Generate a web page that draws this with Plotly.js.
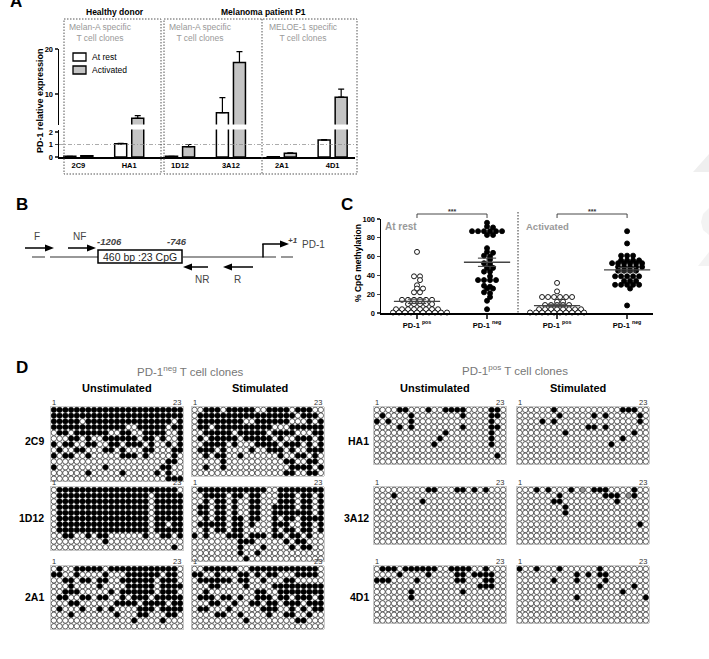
<!DOCTYPE html>
<html><head><meta charset="utf-8">
<script src="https://cdn.plot.ly/plotly-3.0.1.min.js"></script>
<style>html,body{margin:0;padding:0;background:#fff}#chart{width:709px;height:659px}</style>
</head><body><div id="chart"></div>
<script>
// ---------- DATA ----------
// Panel A
const clones = ['2C9','HA1','1D12','3A12','2A1','4D1'];
const restExpr = [0.05, 1.05, 0.05, 5.85, 0.02, 1.35];
const restErr  = [0, 0.05, 0, 3.35, 0, 0.05];
const actExpr  = [0.1, 4.6, 0.82, 17.0, 0.3, 9.3];
const actErr   = [0, 0.6, 0.18, 2.4, 0.03, 1.8];
// Panel C (% CpG methylation)
const cGroups = ['PD-1 <sup>pos</sup>','PD-1 <sup>neg</sup>','PD-1 <sup>pos</sup>','PD-1 <sup>neg</sup>'];
const restPos = [65,39,39,35,29.5,26,26,22,22,14,14,14,14,14,14,9.5,9.5,9.5,9.5,9.5,4,4,4,4,4,4,4,4,0.5,0.5,0.5,0.5,0.5,0.5,0.5,0.5,0.5,0.5];
const restNeg = [96,92,91,87,87,87,87,87,87,83,83,69,65,64,61,60,57,53,52,48,48,44,44,39,35,35,35,35,29,28,26,26,22,21,17,13,4];
const actPos  = [32,23,17,17,17,17,17,17,12,12,8.5,8.5,8.5,8.5,8.5,4,4,4,4,4,4,4,4,0.5,0.5,0.5,0.5,0.5,0.5,0.5,0.5,0.5,0.5];
const actNeg  = [87,74,61,61,61,56,56,56,56,53,53,53,53,53,53,49,49,49,49,49,45,45,45,45,39,39,39,39,39,34,34,34,30,30,30,30,30,26,8];
// Panel D methylation maps (1 = methylated, 0 = unmethylated, 2 = grey)
const gNeg2C9U = [
"11111111111111111111111","11111111111111111111111","11111011111111111111101",
"11111111111110011111011","01101111110011001111001","00011010011111101101001",
"10110011001101110100101","01001100011010001100011","10110010000011101000010",
"00000000000000000000110","10000000010000000001100","00000010000010000010100",
"00000000000000000000111"];
const gNeg2C9S = [
"00111011111001111011100","01111111111111111101110","01111111100111111000101",
"01101111111111000111111","00111110111110111100011","01011111011111010011101",
"00111101000111101110101","01110100001001110100111","00101100100000010011010",
"00000100000000001100110","00100100000000000111101","00000000000000001100110"];
const gNeg1D12U = [
"01111111111111111111110","01111111111111111011111","01111111111111111011111",
"01111111111111111011111","01111111111111111011111","01111111111111111011111",
"01111111111111111011011","01111111111111111011111","00110010110000001001101",
"00000000010000000000000","00000000000000000000010"];
const gNeg1D12S = [
"01111111111110011111111","00111101101100011101101","00101101001100011101101",
"01101101001100111101101","01101101001100111111101","00101101101100101101111",
"01111101101000111001101","00101101100000101101101","10100011101110110110100",
"00000000111000001011000","00000000100010000101100","00000000100100000000000",
"00000000010000000000000"];
const gNeg2A1U = [
"01001111101111111111110","11001000010001111110110","00110110110011111101110",
"00010000100001111101111","00111000001011111101110","01100110110010111011111",
"00011000000111101111011","01000100101000011101111","00010000000100011000110",
"00000000000000100001000","00000000000000000000000"];
const gNeg2A1S = [
"00111111001111111111110","11001000110101100011110","01111110110010001100000",
"00011000010000111111111","00100000000110011111111","01110110100111011011101",
"00011001001101101110111","01100010000011100101011","00001100100001001100100",
"00000000010000000011000","00000000000000000000000"];
const gPosHA1U = [
"00001100010011110000110","01000010000000010000110","10100010000000000000100",
"00001010000000010000110","00000000000010000000100","00000000000100000000100",
"00000000001000000000100","00000000000000000000000","00000000000000000000010",
"00000000000000000000000"];
const gPosHA1S = [
"00000010000000000011100","00000001000001010000010","00001010000000000000010",
"00000000000011010000000","00000000100000000000100","00000000000000000010000",
"00000000000000001000000","00000000000000000000000","00000000000000000000000",
"00000000000000000000000"];
const gPos3A12U = [
"00000000011000110101000","00010000000000000000000","00000000100000000000000",
"00000000000000000000000","00000000000000000000000","00000000000000000000000",
"00000000000000000000000","00000000000000000000000","00000000000000000000000",
"00000000000000000000000"];
const gPos3A12S = [
"00010100010201110000100","00000001000000011102100","00000011000000000100000",
"00000000100000000000000","00000000100000000000000","00000000000000000000000",
"00000000000000000000010","00000000000000000000000","00000000000000000000000",
"00000000000000000000000"];
const gPos4D1U = [
"01110111111001111001000","00001000010000110111100","11100001000000110001100",
"00000000000000000011100","00000010000000010000000","00000010000000000000000",
"00000000000000000000000","00000000000000000000000","00000000000000000000000",
"00000000000000000000000"];
const gPos4D1S = [
"10010001000000100000000","00000000001010110000000","00000010001000010000000",
"00000000000000100000100","00000000000000000010000","00000000001000000000001",
"00000000000000000000000","00000000000000000000000","00000000000000000000000",
"00000000000000000000000"];

// ---------- HELPERS ----------
const W = 709, H = 659;
const FONT = 'Arial, "Liberation Sans", sans-serif';
const fx = p => p / W;
const fy = p => 1 - p / H;
const shapes = [], annotations = [], traces = [];
function L(x0, y0, x1, y1, o) {
  o = o || {};
  shapes.push({type:'line', xref:'paper', yref:'paper', x0:fx(x0), y0:fy(y0), x1:fx(x1), y1:fy(y1),
    line:{color:o.color||'#000', width:o.width||1, dash:o.dash||'solid'}});
}
function R(x0, y0, x1, y1, o) {
  o = o || {};
  shapes.push({type:'rect', xref:'paper', yref:'paper', x0:fx(x0), y0:fy(y0), x1:fx(x1), y1:fy(y1),
    line:{color:o.color||'#000', width:o.width===undefined?1:o.width, dash:o.dash||'solid'}, fillcolor:o.fill||'rgba(0,0,0,0)'});
}
function P(pts, fill) {
  const d = pts.map((p,i)=>(i?'L':'M')+fx(p[0])+','+fy(p[1])).join(' ')+' Z';
  shapes.push({type:'path', xref:'paper', yref:'paper', path:d, fillcolor:fill, line:{width:0}});
}
function T(text, x, y, o) {
  o = o || {};
  annotations.push({text:text, xref:'paper', yref:'paper', x:fx(x), y:fy(y), showarrow:false,
    xanchor:o.xa||'center', yanchor:o.ya||'middle', textangle:o.angle||0,
    font:{family:FONT, size:o.size||9, color:o.color||'#000'}});
}
function ARROW(hx, hy, tx) {
  const dir = hx > tx ? 1 : -1, base = hx - dir*9;
  L(tx, hy, base, hy, {width:1.5});
  P([[hx,hy],[base,hy-3.5],[base,hy+3.5]], '#000');
}
const layout = {width:W, height:H, margin:{l:0,r:0,t:0,b:0}, paper_bgcolor:'#fff', plot_bgcolor:'rgba(0,0,0,0)',
  showlegend:false, font:{family:FONT}, shapes:shapes, annotations:annotations};

// faint watermark fragments at the right edge
P([[709,154],[709,172],[693,172]], '#efefef');
P([[709,208],[703,214],[701,222],[703,230],[709,235]], '#f3f3f3');
P([[709,252],[709,266],[698,266]], '#f3f3f3');

// ---------- PANEL A ----------
const aX0 = 59, aX1 = 355;
layout.xaxis = {domain:[fx(aX0), fx(aX1)], type:'category', range:[-0.38, 5.44], anchor:'y',
  showline:true, linewidth:1.5, linecolor:'#000', ticks:'', showgrid:false, zeroline:false,
  tickfont:{family:FONT, size:7.5, weight:'bold', color:'#000'}};
layout.yaxis = {domain:[fy(157), fy(129.5)], range:[0, 2.2], anchor:'x', tickvals:[0,1,2],
  showline:true, linewidth:1.5, linecolor:'#000', ticks:'outside', ticklen:3, tickwidth:1.2,
  showgrid:false, zeroline:false, tickfont:{family:FONT, size:7.5, weight:'bold', color:'#000'}};
layout.yaxis2 = {domain:[fy(124.6), fy(49)], range:[3.2, 20], anchor:'x', tickvals:[10,20],
  showline:true, linewidth:1.5, linecolor:'#000', ticks:'outside', ticklen:3, tickwidth:1.2,
  showgrid:false, zeroline:false, tickfont:{family:FONT, size:7.5, weight:'bold', color:'#000'}};
['y','y2'].forEach(ya => {
  traces.push({type:'bar', x:clones, y:restExpr, xaxis:'x', yaxis:ya, width:0.236, offset:-0.285,
    marker:{color:'#fff', line:{color:'#000', width:1.5}},
    error_y:{type:'data', symmetric:false, array:restErr, arrayminus:restErr.map(()=>0), color:'#000', thickness:1.2, width:3}});
  traces.push({type:'bar', x:clones, y:actExpr, xaxis:'x', yaxis:ya, width:0.236, offset:0.05,
    marker:{color:'#c4c4c4', line:{color:'#000', width:1.5}},
    error_y:{type:'data', symmetric:false, array:actErr, arrayminus:actErr.map(()=>0), color:'#000', thickness:1.2, width:3}});
});
layout.barmode = 'overlay';
shapes.push({type:'line', xref:'paper', yref:'y', x0:fx(aX0), x1:fx(357), y0:1, y1:1,
  line:{color:'#888', width:0.7, dash:'4px,2px,1px,2px'}});
R(64, 19, 161, 174, {dash:'1.5px,1.5px', color:'#555', width:1});
R(164, 19, 357, 174, {dash:'1.5px,1.5px', color:'#555', width:1});
L(262, 19, 262, 174, {dash:'1.5px,1.5px', color:'#555', width:1});
T('<b>Healthy donor</b>', 115, 12.5, {size:8.5});
T('<b>Melanoma patient P1</b>', 263, 12.5, {size:8.5});
T('Melan-A specific<br>T cell clones', 67, 32.5, {xa:'left', size:8.5, color:'#999'});
T('Melan-A specific<br>T cell clones', 167, 32.5, {xa:'left', size:8.5, color:'#999'});
T('MELOE-1 specific<br>T cell clones', 267, 32.5, {xa:'left', size:8.5, color:'#999'});
T('<b>PD-1 relative expression</b>', 40, 101, {angle:-90, size:9});
R(73, 53, 86, 61, {width:1.3, fill:'#fff'});
R(73, 66, 86, 74, {width:1.3, fill:'#c4c4c4'});
T('At rest', 90, 57, {xa:'left', size:8.5});
T('Activated', 90, 70, {xa:'left', size:8.5});
T('<b>A</b>', 15.5, 13, {size:17, ya:'bottom'});

// ---------- PANEL B ----------
T('<b>B</b>', 22, 204, {size:17});
L(32, 257, 63, 257, {dash:'13px,5px', width:1.2, color:'#333'});
L(63, 257, 98, 257, {width:1.2, color:'#333'});
R(98, 250, 182, 263, {width:1.5});
L(182, 257, 263, 257, {width:1.2, color:'#333'});
L(263, 257, 293, 257, {dash:'13px,5px', width:1.2, color:'#333'});
L(263, 257.5, 263, 244, {width:1.5});
ARROW(289, 244, 262.3);
ARROW(54, 248, 25);
ARROW(96, 248, 68);
ARROW(183, 267, 208);
ARROW(223, 267, 253);
T('460 bp :23 CpG', 140, 257, {size:10.5, color:'#222'});
T('F', 37, 236, {size:10, color:'#444'});
T('NF', 79, 236, {size:10, color:'#444'});
T('<b><i>-1206</i></b>', 109, 241, {size:9.5, color:'#444'});
T('<b><i>-746</i></b>', 177, 241, {size:9.5, color:'#444'});
T('<b><i>+1</i></b>', 293, 240, {size:8, color:'#444'});
T('PD-1', 313, 244, {size:10, color:'#444'});
T('NR', 202, 279, {size:10, color:'#444'});
T('R', 238, 279, {size:10, color:'#444'});

// ---------- PANEL C ----------
const cL = 381, cR = 653, cT = 219, cB = 313, cRange = [-0.514, 3.37];
const cx = v => cL + (v - cRange[0]) / (cRange[1] - cRange[0]) * (cR - cL);
layout.xaxis3 = {domain:[fx(cL), fx(cR)], range:cRange, anchor:'y3', tickvals:[0,1,2,3],
  ticktext:cGroups.map(s=>'<b>'+s+'</b>'), showline:true, linewidth:1.5, linecolor:'#000',
  ticks:'outside', ticklen:4, tickwidth:1.2, showgrid:false, zeroline:false,
  tickfont:{family:FONT, size:7.5, color:'#000'}};
layout.yaxis3 = {domain:[fy(cB), fy(cT)], range:[0,100], anchor:'x3', tickvals:[0,20,40,60,80,100],
  ticktext:[0,20,40,60,80,100].map(v=>'<b>'+v+'</b>'), showline:true, linewidth:1.5, linecolor:'#000',
  ticks:'outside', ticklen:3, tickwidth:1.2, showgrid:false, zeroline:false,
  tickfont:{family:FONT, size:7.5, color:'#000'}};
function spread(vals, center) {
  const pxPerX = (cR - cL) / (cRange[1] - cRange[0]);
  const step = 6 / pxPerX;
  const order = vals.map((v,i)=>i).sort((a,b)=>vals[b]-vals[a]);
  const groups = [];
  order.forEach(i => {
    const g = groups[groups.length-1];
    if (g && vals[g[0]] - vals[i] <= 1.5) g.push(i); else groups.push([i]);
  });
  const xs = new Array(vals.length);
  let prevVal = null, prevShift = 0;
  groups.forEach(g => {
    const v = vals[g[0]];
    let shift = 0;
    if (prevVal !== null && prevVal - v < 6) shift = prevShift === 0 ? step/2 : 0;
    g.forEach((i,k) => { xs[i] = center + (k - (g.length-1)/2) * step + shift; });
    prevVal = v; prevShift = shift;
  });
  return xs;
}
function meanSem(a) {
  const n = a.length, m = a.reduce((s,v)=>s+v,0)/n;
  const sd = Math.sqrt(a.reduce((s,v)=>s+(v-m)*(v-m),0)/(n-1));
  return [m, sd/Math.sqrt(n)];
}
[[restPos,0,false],[restNeg,1,true],[actPos,2,false],[actNeg,3,true]].forEach(([vals, c, filled]) => {
  traces.push({type:'scatter', mode:'markers', x:spread(vals, c), y:vals, xaxis:'x3', yaxis:'y3', cliponaxis:false,
    marker:{symbol:'circle', size:5, color:filled?'#000':'#fff', line:{color:'#000', width:0.9}}});
  const [m, s] = meanSem(vals);
  traces.push({type:'scatter', mode:'lines', x:[c-0.33, c+0.33], y:[m, m], xaxis:'x3', yaxis:'y3',
    line:{color:'#444', width:1.3}});
  traces.push({type:'scatter', mode:'lines', x:[c-0.13,c+0.13,null,c,c,null,c-0.13,c+0.13],
    y:[m+s,m+s,null,m+s,m-s,null,m-s,m-s], xaxis:'x3', yaxis:'y3', line:{color:'#444', width:1.1}});
});
[[0,1],[2,3]].forEach(([a,b]) => {
  L(cx(a), 214, cx(b), 214, {width:0.9, color:'#333'});
  L(cx(a), 214, cx(a), 218, {width:0.9, color:'#333'});
  L(cx(b), 214, cx(b), 218, {width:0.9, color:'#333'});
  T('<b>***</b>', (cx(a)+cx(b))/2, 212, {size:7, color:'#333'});
});
L(518, 212, 518, 313, {dash:'1.5px,1.5px', color:'#333', width:1});
T('<b>At rest</b>', 383, 226, {xa:'left', size:10, color:'#999'});
T('<b>Activated</b>', 524, 226, {xa:'left', size:9.5, color:'#999'});
T('<b>% CpG methylation</b>', 358, 263, {angle:-90, size:8.5});
T('<b>C</b>', 347, 204, {size:17});

// ---------- PANEL D ----------
T('<b>D</b>', 22, 367, {size:17});
T('PD-1<sup>neg</sup> T cell clones', 190, 371, {size:11.5, color:'#777'});
T('PD-1<sup>pos</sup> T cell clones', 515, 370, {size:11.5, color:'#777'});
T('<b>Unstimulated</b>', 117, 388, {size:11});
T('<b>Stimulated</b>', 260, 388, {size:11});
T('<b>Unstimulated</b>', 435, 388, {size:11});
T('<b>Stimulated</b>', 578, 388, {size:11});
const S = 5.74, NC = 23;
const placements = [
  {g:gNeg2C9U, left:51, top:407}, {g:gNeg2C9S, left:191.7, top:407},
  {g:gNeg1D12U, left:51, top:487}, {g:gNeg1D12S, left:191.7, top:487},
  {g:gNeg2A1U, left:51, top:566}, {g:gNeg2A1S, left:191.7, top:566},
  {g:gPosHA1U, left:374, top:407}, {g:gPosHA1S, left:516.7, top:407},
  {g:gPos3A12U, left:374, top:487}, {g:gPos3A12S, left:516.7, top:487},
  {g:gPos4D1U, left:374, top:566}, {g:gPos4D1S, left:516.7, top:566}];
placements.forEach((p, i) => {
  const id = i + 4, rows = p.g.length;
  layout['xaxis'+id] = {domain:[fx(p.left), fx(p.left + NC*S)], range:[-0.5, NC-0.5], anchor:'y'+id,
    showline:true, mirror:true, linecolor:'#aaa', linewidth:0.6, showticklabels:false, ticks:'', showgrid:false, zeroline:false};
  layout['yaxis'+id] = {domain:[fy(p.top + rows*S), fy(p.top)], range:[rows-0.5, -0.5], anchor:'x'+id,
    showline:true, mirror:true, linecolor:'#aaa', linewidth:0.6, showticklabels:false, ticks:'', showgrid:false, zeroline:false};
  const xs = [], ys = [], cs = [];
  p.g.forEach((row, r) => row.split('').forEach((ch, c) => {
    xs.push(c); ys.push(r); cs.push(ch === '1' ? '#000' : ch === '2' ? '#999' : '#fff');
  }));
  traces.push({type:'scatter', mode:'markers', x:xs, y:ys, xaxis:'x'+id, yaxis:'y'+id, cliponaxis:false,
    marker:{symbol:'circle', size:5.4, color:cs, line:{color:'#000', width:0.6}}});
  T('1', p.left + S/2, p.top - 5, {size:7.5, color:'#333'});
  T('23', p.left + NC*S, p.top - 5, {size:7.5, color:'#333', xa:'right'});
});
[['2C9',441],['1D12',518],['2A1',597]].forEach(([t,y]) => T('<b>'+t+'</b>', 46, y, {xa:'right', size:10.5}));
[['HA1',441],['3A12',518],['4D1',597]].forEach(([t,y]) => T('<b>'+t+'</b>', 371, y, {xa:'right', size:10.5}));

Plotly.newPlot('chart', traces, layout, {displayModeBar:false, staticPlot:true});
</script></body></html>
